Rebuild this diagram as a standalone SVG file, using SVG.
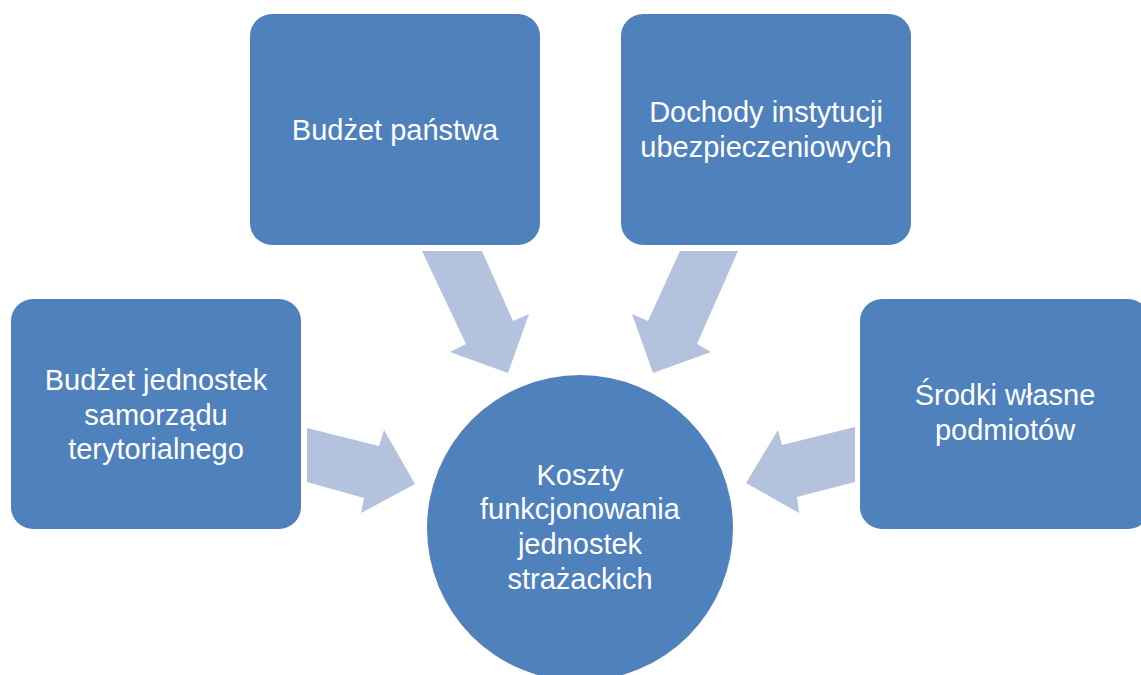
<svg xmlns="http://www.w3.org/2000/svg" width="1141" height="675" viewBox="0 0 1141 675">
<style>
.box{fill:#4F81BD}
.arr{fill:#B3C2DD}
text{font-family:"Liberation Sans",Arial,sans-serif;font-size:29px;fill:#FFFFFF;text-anchor:middle}
</style>
<rect width="1141" height="675" fill="#FFFFFF"/>
<g id="connectors">
<polygon class="arr" points="422,251 482,251 513,321 529,314 508,373 450,352 466,344"/>
<polygon class="arr" points="738,251 680,251 648,321 632,314 653,373 711,352 697,344"/>
<polygon class="arr" points="307,428 379,446 384,430 415,484 361,513 364,498 307,482"/>
<polygon class="arr" points="855,427 782,445 778,430 746,483 799,513 797,497 855,482"/>
</g>
<g id="node-budzet-panstwa">
<rect class="box" x="250" y="14" width="290" height="231" rx="22"/>
<text x="395" y="140">Budżet państwa</text>
</g>
<g id="node-dochody">
<rect class="box" x="621" y="14" width="290" height="231" rx="22"/>
<text x="766" y="122">Dochody instytucji</text>
<text x="766" y="157">ubezpieczeniowych</text>
</g>
<g id="node-jst">
<rect class="box" x="11" y="299" width="290" height="230" rx="22"/>
<text x="156" y="390">Budżet jednostek</text>
<text x="156" y="425">samorządu</text>
<text x="156" y="459">terytorialnego</text>
</g>
<g id="node-srodki">
<rect class="box" x="860" y="299" width="290" height="230" rx="22"/>
<text x="1005" y="405">Środki własne</text>
<text x="1005" y="440">podmiotów</text>
</g>
<g id="node-koszty">
<circle class="box" cx="580" cy="528" r="153"/>
<text x="580" y="485">Koszty</text>
<text x="580" y="519">funkcjonowania</text>
<text x="580" y="554">jednostek</text>
<text x="580" y="589">strażackich</text>
</g>
</svg>
